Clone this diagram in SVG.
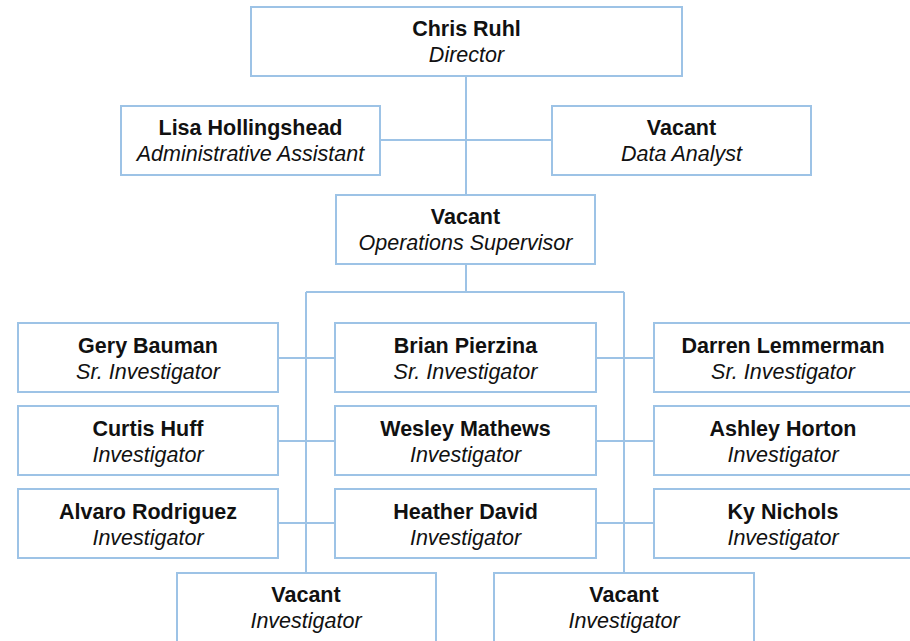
<svg xmlns="http://www.w3.org/2000/svg" width="910" height="641" viewBox="0 0 910 641">
<style>
.box{fill:#fff;stroke:#9DC3E6;stroke-width:2}
.ln{stroke:#9DC3E6;stroke-width:2;fill:none}
.n{font-family:"Liberation Sans",Arial,sans-serif;font-size:21.5px;font-weight:bold;fill:#111;text-anchor:middle}
.r{font-family:"Liberation Sans",Arial,sans-serif;font-size:21.5px;font-style:italic;fill:#111;text-anchor:middle}
</style>
<rect width="910" height="641" fill="#fff"/>
<g id="connectors">
<path class="ln" d="M466 76V195M380 140H552M466 264V292M306 292H624M306 292V573M624 292V573M278 358H335M278 441H335M278 523H335M596 358H654M596 441H654M596 523H654"/>
</g>
<g id="n-director"><rect class="box" x="251" y="7" width="431" height="69"/><text class="n" x="466.5" y="36">Chris Ruhl</text><text class="r" x="466.5" y="62">Director</text></g>
<g id="n-lisa"><rect class="box" x="121" y="106" width="259" height="69"/><text class="n" x="250.5" y="135">Lisa Hollingshead</text><text class="r" x="250.5" y="161">Administrative Assistant</text></g>
<g id="n-analyst"><rect class="box" x="552" y="106" width="259" height="69"/><text class="n" x="681.5" y="135">Vacant</text><text class="r" x="681.5" y="161">Data Analyst</text></g>
<g id="n-ops"><rect class="box" x="336" y="195" width="259" height="69"/><text class="n" x="465.5" y="224">Vacant</text><text class="r" x="465.5" y="250">Operations Supervisor</text></g>
<g id="n-gery"><rect class="box" x="18" y="323" width="260" height="69"/><text class="n" x="148" y="352.5">Gery Bauman</text><text class="r" x="148" y="379">Sr. Investigator</text></g>
<g id="n-brian"><rect class="box" x="335" y="323" width="261" height="69"/><text class="n" x="465.5" y="352.5">Brian Pierzina</text><text class="r" x="465.5" y="379">Sr. Investigator</text></g>
<g id="n-darren"><rect class="box" x="654" y="323" width="262" height="69"/><text class="n" x="783" y="352.5">Darren Lemmerman</text><text class="r" x="783" y="379">Sr. Investigator</text></g>
<g id="n-curtis"><rect class="box" x="18" y="406" width="260" height="69"/><text class="n" x="148" y="435.5">Curtis Huff</text><text class="r" x="148" y="462">Investigator</text></g>
<g id="n-wesley"><rect class="box" x="335" y="406" width="261" height="69"/><text class="n" x="465.5" y="435.5">Wesley Mathews</text><text class="r" x="465.5" y="462">Investigator</text></g>
<g id="n-ashley"><rect class="box" x="654" y="406" width="262" height="69"/><text class="n" x="783" y="435.5">Ashley Horton</text><text class="r" x="783" y="462">Investigator</text></g>
<g id="n-alvaro"><rect class="box" x="18" y="489" width="260" height="69"/><text class="n" x="148" y="518.5">Alvaro Rodriguez</text><text class="r" x="148" y="545">Investigator</text></g>
<g id="n-heather"><rect class="box" x="335" y="489" width="261" height="69"/><text class="n" x="465.5" y="518.5">Heather David</text><text class="r" x="465.5" y="545">Investigator</text></g>
<g id="n-ky"><rect class="box" x="654" y="489" width="262" height="69"/><text class="n" x="783" y="518.5">Ky Nichols</text><text class="r" x="783" y="545">Investigator</text></g>
<g id="n-vacant1"><rect class="box" x="177" y="573" width="259" height="80"/><text class="n" x="306" y="602">Vacant</text><text class="r" x="306" y="628">Investigator</text></g>
<g id="n-vacant2"><rect class="box" x="494" y="573" width="260" height="80"/><text class="n" x="624" y="602">Vacant</text><text class="r" x="624" y="628">Investigator</text></g>
</svg>
